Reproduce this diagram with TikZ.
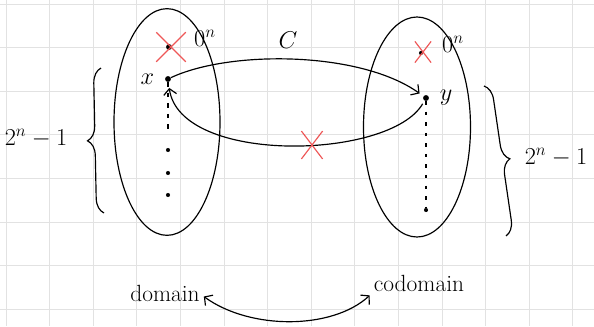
\documentclass[tikz,border=0pt]{standalone}
\usepackage{amsmath}
\usepackage{xcolor}
\usepackage{tikz}
\usetikzlibrary{shapes.geometric,shapes.misc,arrows.meta,positioning,decorations.pathreplacing}
\definecolor{gridgray}{RGB}{226,226,226}
\definecolor{markred}{RGB}{238,88,88}

\begin{document}
\begin{tikzpicture}[x=0.03cm, y=-0.03cm, font=\fontsize{20}{24}\selectfont, set/.style={draw, ellipse, line width=1pt, inner sep=0pt}, dot/.style={circle, fill, inner sep=0pt, minimum size=5pt}, smalldot/.style={circle, fill, inner sep=0pt, minimum size=3.5pt}, nope/.style={cross out, draw=markred, line width=1pt, inner sep=0pt}, arr/.style={-{Straight Barb[length=5pt, width=11pt]}, line width=1pt}, brc/.style={decorate, decoration={brace, amplitude=0.45cm}, line width=1pt}]
% grid paper
\useasboundingbox (0,0) rectangle (594,326);
\foreach \i in {0,...,13} \draw[gridgray, line width=0.6pt] ({6+43.6*\i},0) -- ({6+43.6*\i},326);
\foreach \j in {0,...,7} \draw[gridgray, line width=0.6pt] (0,{4+43.6*\j}) -- (594,{4+43.6*\j});
% the two sets
\node[set, minimum width=3.18cm, minimum height=6.8cm] (dom) at (167,122) {};
\node[set, minimum width=3.21cm, minimum height=6.6cm] (cod) at (417,127) {};
% points of the domain
\node[dot] (zl) at (169,47) {};
\node[nope, minimum width=0.85cm, minimum height=0.85cm] (zlx) at (171,47) {};
\node (zllab) at (205,38) {$0^n$};
\node[dot] (x) at (168,79) {};
\node[left=0.2cm of x] (xlab) {$x$};
\coordinate (xend) at (168,132);
\node[smalldot] (d1) at (168,150) {};
\node[smalldot] (d2) at (168,173) {};
\node[smalldot] (d3) at (168,195) {};
\draw[dashed, dash pattern=on 4pt off 5pt, line width=1pt] (x) -- (xend);
% points of the codomain
\node[smalldot] (zr) at (421,53) {};
\node[nope, minimum width=0.45cm, minimum height=0.6cm] (zrx) at (423,52) {};
\node (zrlab) at (453,44) {$0^n$};
\node[dot] (y) at (426,98) {};
\node[right=0.2cm of y] (ylab) {$y$};
\node[smalldot] (ylast) at (426,210) {};
\draw[dashed, dash pattern=on 3pt off 6pt, line width=1pt] (y) -- (ylast);
% the maps
\draw[arr, shorten >=4pt] (x) .. controls (230,50) and (360,51) .. (y);
\node (clab) at (288,40) {$C$};
\draw[arr, shorten >=5pt, shorten <=3pt] (y) .. controls (390,160) and (180,165) .. (x);
\node[nope, minimum width=0.6cm, minimum height=0.8cm] (nox) at (312,145) {};
% counts
\draw[brc] (104,213) -- (101,68);
\node (lcount) at (36,138) {$2^n-1$};
\draw[brc] (484,86) -- (506,236);
\node (rcount) at (556,157) {$2^n-1$};
% names
\node (domlab) at (165,293) {domain};
\node (codlab) at (419,283) {codomain};
\draw[{Straight Barb[length=5pt, width=11pt]}-{Straight Barb[length=5pt, width=11pt]}, line width=1pt] ([yshift=-3pt]domlab.east) .. controls (250,330) and (332,330) .. (codlab.south west);
\end{tikzpicture}
\end{document}
